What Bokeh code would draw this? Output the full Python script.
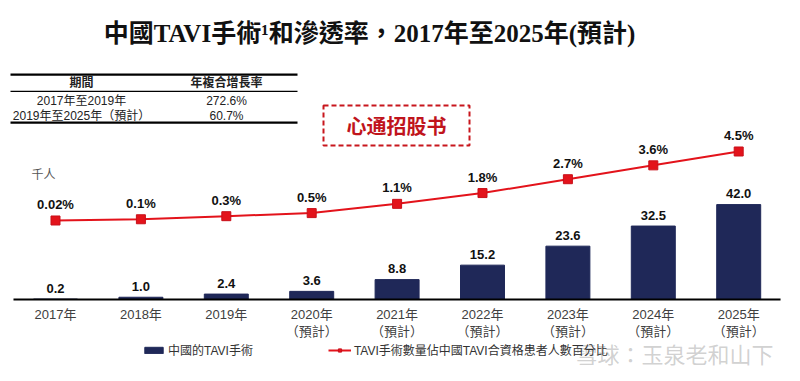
from bokeh.plotting import figure
from bokeh.models import Range1d, Label, BoxAnnotation, Legend, LegendItem, ColumnDataSource
from bokeh.core.properties import value
from bokeh.embed import file_html
from bokeh.resources import INLINE

# ---- data ----
years = ["2017年", "2018年", "2019年", "2020年", "2021年", "2022年", "2023年", "2024年", "2025年"]
forecast = [False, False, False, True, True, True, True, True, True]
surgeries = [0.2, 1.0, 2.4, 3.6, 8.8, 15.2, 23.6, 32.5, 42.0]          # 千人
penetration = [0.02, 0.1, 0.3, 0.5, 1.1, 1.8, 2.7, 3.6, 4.5]           # %
pen_labels = ["0.02%", "0.1%", "0.3%", "0.5%", "1.1%", "1.8%", "2.7%", "3.6%", "4.5%"]
cagr_header = ["期間", "年複合增長率"]
cagr_periods = ["2017年至2019年", "2019年至2025年（預計）"]
cagr_values = ["272.6%", "60.7%"]
title_text = "中國TAVI手術¹和滲透率，2017年至2025年(預計)"
bar_name = "中國的TAVI手術"
line_name = "TAVI手術數量佔中國TAVI合資格患者人數百分比"

NAVY = "#1F2858"
RED = "#E3131B"
SANS = "'Liberation Sans', 'Noto Sans CJK TC', sans-serif"
CJK = "'Noto Sans CJK TC', sans-serif"

idx = list(range(len(years)))
tick_text = [y + ("\n（預計）" if f else "") for y, f in zip(years, forecast)]
src = ColumnDataSource(dict(
    x=idx, bars=surgeries, bar_lbl=[f"{v:.1f}" for v in surgeries],
    pen=penetration, pen_lbl=pen_labels, ticks=tick_text, zero=[0] * len(idx),
))

W, H = 792, 373
p = figure(width=W, height=H, output_backend="svg", toolbar_location=None,
           x_range=Range1d(-0.644, 8.630), y_range=Range1d(-32.74, 132.30),
           x_axis_location=None, y_axis_location=None, min_border=0)
p.extra_y_ranges = {"pct": Range1d(-9.916, 14.305)}
p.grid.grid_line_color = None
p.outline_line_color = None
p.background_fill_color = "white"
p.border_fill_color = "white"

# bars
bars = p.vbar(x="x", top="bars", bottom=0, width=0.515, source=src,
              fill_color=NAVY, line_color=NAVY)
p.text(x="x", y="bars", text="bar_lbl", source=src, y_offset=-11,
       text_align="center", text_baseline="middle", text_font=value(SANS),
       text_font_size="13px", text_font_style="bold", text_color="#111111")

# axis line
p.add_layout(BoxAnnotation(left=-0.492, right=8.49, bottom=0, top=0,
                           fill_alpha=0, line_color="black", line_alpha=1, line_width=2.2))

# tick labels
p.text(x="x", y="zero", text="ticks", source=src, y_offset=7,
       text_align="center", text_baseline="top", text_font=value(SANS),
       text_font_size="13px", text_color="#404040", text_line_height=1.15)

# penetration line
ln = p.line(x="x", y="pen", source=src, y_range_name="pct", line_color=RED, line_width=2)
mk = p.scatter(x="x", y="pen", source=src, y_range_name="pct", marker="square",
               size=9, fill_color=RED, line_color="#C8101A")
p.text(x="x", y="pen", text="pen_lbl", source=src, y_range_name="pct", y_offset=-16,
       text_align="center", text_baseline="middle", text_font=value(SANS),
       text_font_size="13px", text_font_style="bold", text_color="#111111")


def pg(X, Y):
    """page pixel -> screen units (origin bottom-left of canvas)"""
    return X, H - Y


def box(x0, y0, x1, y1, **kw):
    l, b = pg(x0, y1)
    r, t = pg(x1, y0)
    p.add_layout(BoxAnnotation(left=l, right=r, bottom=b, top=t,
                               left_units="screen", right_units="screen",
                               bottom_units="screen", top_units="screen", **kw))


def label(X, Y, txt, **kw):
    sx, sy = pg(X, Y)
    p.add_layout(Label(x=sx, y=sy, x_units="screen", y_units="screen", text=txt,
                       text_baseline="middle", **kw))


# title
label(369, 33, title_text, text_align="center",
      text_font="'Liberation Serif', 'Noto Sans CJK TC', serif",
      text_font_size="25px", text_font_style="bold", text_color="#111111")

# unit
label(43, 173, "千人", text_align="center", text_font=CJK,
      text_font_size="12px", text_color="#555555")

# CAGR table
for (y0, y1) in [(73, 75.2), (90.2, 91.6), (121, 123.2)]:
    box(10, y0, 297, y1, fill_color="black", fill_alpha=1, line_alpha=0)
rows = [(cagr_header[0], cagr_header[1], 82, "bold")] + \
       [(a, b, yy, "normal") for a, b, yy in zip(cagr_periods, cagr_values, [100, 115])]
for a, b, yy, st in rows:
    for txt, xx in [(a, 81), (b, 226)]:
        label(xx, yy, txt, text_align="center", text_font=SANS,
              text_font_size="12px", text_font_style=st, text_color="#222222")

# stamp
box(323, 105, 469, 145, fill_alpha=0, line_color="#C8161D", line_alpha=1,
    line_width=2, line_dash="5 3")
label(396, 125, "心通招股书", text_align="center",
      text_font="'Noto Sans CJK SC', sans-serif", text_font_size="20px",
      text_font_style="bold", text_color="#C0141C")

# legend
lx, ly = pg(142, 358)
legend = Legend(items=[LegendItem(label=bar_name, renderers=[bars]),
                       LegendItem(label=line_name, renderers=[ln, mk])],
                orientation="horizontal", location=(lx, ly), padding=0, margin=0,
                spacing=75, glyph_width=23, glyph_height=8, label_height=14,
                label_standoff=3, label_text_font=SANS, label_text_font_size="12px",
                label_text_color="#333333", border_line_color=None,
                background_fill_alpha=0)
p.add_layout(legend)

# watermark
label(575, 352, "雪球：玉泉老和山下", text_align="left", text_font=CJK,
      text_font_size="22px", text_color="#999999", text_alpha=0.45)

open("out.html", "w").write(file_html(p, INLINE))
